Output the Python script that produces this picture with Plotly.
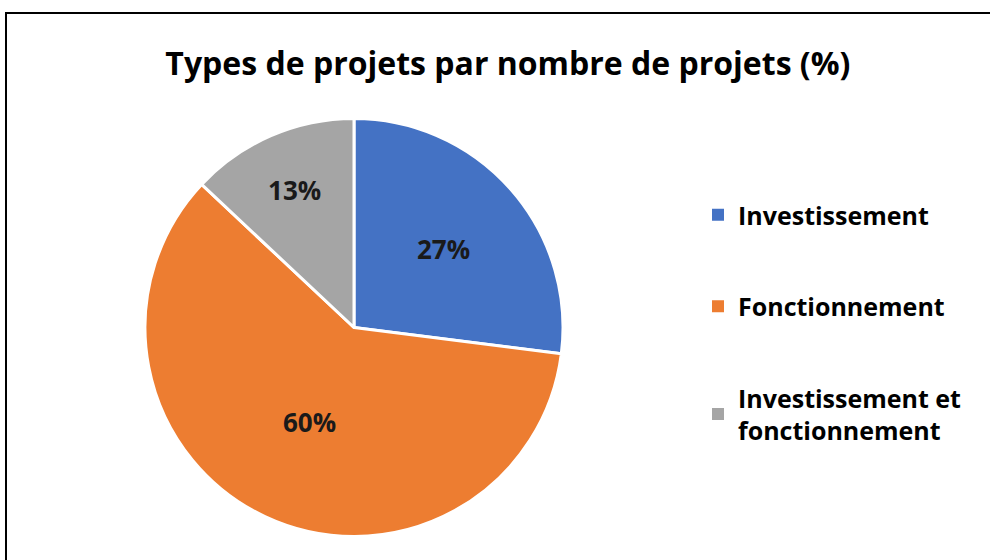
import plotly.graph_objects as go

title = "Types de projets par nombre de projets (%)"
categories = ["Investissement", "Fonctionnement", "Investissement et fonctionnement"]
legend_labels = ["Investissement", "Fonctionnement", "Investissement et<br>fonctionnement"]
values = [27, 60, 13]
colors = ["#4472C4", "#ED7D31", "#A5A5A5"]

FONT = "Open Sans"

fig = go.Figure()
fig.add_trace(go.Pie(
    labels=categories,
    values=values,
    sort=False,
    direction="clockwise",
    rotation=0,
    marker=dict(colors=colors, line=dict(color="white", width=3)),
    texttemplate="%{value}%",
    textposition="inside",
    insidetextorientation="horizontal",
    textfont=dict(family=FONT, size=26, color="#1a1a1a", weight="bold"),
    showlegend=False,
    domain=dict(x=[145/990, 563/990], y=[(560-537)/560, (560-118)/560]),
    hoverinfo="label+percent",
))

for i, (lab, col) in enumerate(zip(legend_labels, colors)):
    fig.add_trace(go.Scatter(
        x=[None], y=[None], mode="markers", name=lab,
        marker=dict(symbol="square", size=10, color=col),
        legendgroup=f"g{i}", showlegend=True,
    ))

fig.update_layout(
    width=990, height=560,
    margin=dict(l=0, r=0, t=0, b=0),
    paper_bgcolor="white", plot_bgcolor="white",
    title=dict(text=f"<b>{title}</b>", x=0.513, xanchor="center", y=1-64/560, yanchor="middle",
               font=dict(family=FONT, size=32, color="#000000")),
    xaxis=dict(visible=False), yaxis=dict(visible=False),
    legend=dict(x=698/990, y=1-192/560, xanchor="left", yanchor="top",
                tracegroupgap=56, itemsizing="constant",
                font=dict(family=FONT, size=25, color="#000000", weight="bold"),
                bgcolor="rgba(0,0,0,0)"),
    shapes=[dict(type="rect", xref="paper", yref="paper",
                 x0=6/990, x1=1.02, y0=-0.02, y1=1-13/560,
                 line=dict(color="#000000", width=2), fillcolor="rgba(0,0,0,0)")],
)

fig.write_html("out.html", config={"displayModeBar": False},
               post_script="document.body.style.margin='0';document.body.style.padding='0';document.body.style.overflow='hidden';")
